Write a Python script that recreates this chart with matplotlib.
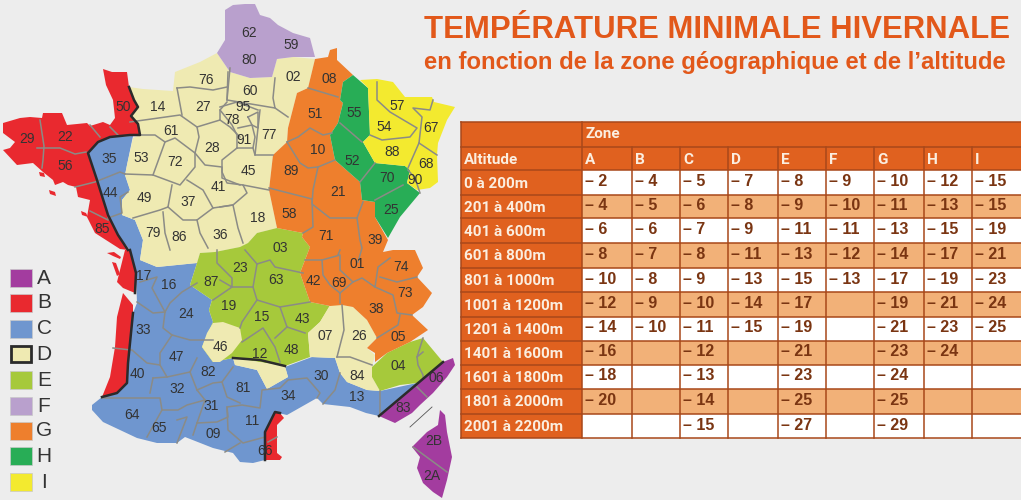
import matplotlib
matplotlib.use('Agg')
import matplotlib.pyplot as plt
from matplotlib.patches import Polygon, Rectangle

# table data
zones = ['A', 'B', 'C', 'D', 'E', 'F', 'G', 'H', 'I']
altitudes = ['0 à 200m', '201 à 400m', '401 à 600m', '601 à 800m', '801 à 1000m', '1001 à 1200m',
             '1201 à 1400m', '1401 à 1600m', '1601 à 1800m', '1801 à 2000m', '2001 à 2200m']
temp_A = [2, 4, 6, 8, 10, 12, 14, 16, 18, 20, None]
temp_B = [4, 5, 6, 7, 8, 9, 10, None, None, None, None]
temp_C = [5, 6, 7, 8, 9, 10, 11, 12, 13, 14, 15]
temp_D = [7, 8, 9, 11, 13, 14, 15, None, None, None, None]
temp_E = [8, 9, 11, 13, 15, 17, 19, 21, 23, 25, 27]
temp_F = [9, 10, 11, 12, 13, None, None, None, None, None, None]
temp_G = [10, 11, 13, 14, 17, 19, 21, 23, 24, 25, 29]
temp_H = [12, 13, 15, 17, 19, 21, 23, 24, None, None, None]
temp_I = [15, 15, 19, 21, 23, 24, 25, None, None, None, None]
temps = [temp_A, temp_B, temp_C, temp_D, temp_E, temp_F, temp_G, temp_H, temp_I]

# departement codes and where their labels sit on the map
dept_codes = ['29', '22', '56', '50', '14', '76', '27', '61', '35', '53', '72', '28', '44', '49', '37', '41',
              '79', '86', '36', '85', '18', '45', '91', '77', '78', '95', '60', '02', '62', '80', '59', '08',
              '51', '55', '10', '52', '89', '21', '58', '57', '54', '67', '88', '68', '70', '90', '25', '71',
              '39', '03', '01', '74', '73', '23', '63', '87', '42', '69', '38', '19', '15', '43', '05', '07',
              '26', '46', '12', '48', '04', '17', '16', '24', '33', '47', '82', '40', '32', '81', '30', '84',
              '06', '34', '13', '31', '83', '64', '65', '09', '11', '66', '2B', '2A']
dept_xy = [(27, 139), (65, 137), (65, 166), (123, 107), (158, 107), (206, 80), (203, 107), (171, 131),
           (109, 159), (141, 158), (175, 162), (212, 148), (110, 193), (144, 198), (188, 202), (218, 187),
           (153, 233), (179, 237), (220, 235), (102, 229), (258, 218), (248, 171), (244, 140), (269, 135),
           (232, 120), (243, 107), (250, 91), (293, 77), (249, 33), (249, 60), (291, 45), (329, 79),
           (315, 114), (354, 113), (318, 150), (352, 161), (291, 171), (338, 192), (289, 214), (397, 106),
           (384, 127), (431, 128), (392, 152), (426, 164), (387, 178), (415, 180), (391, 210), (326, 236),
           (375, 240), (280, 248), (357, 264), (401, 267), (405, 293), (240, 268), (276, 280), (211, 282),
           (313, 281), (339, 283), (376, 309), (229, 306), (262, 317), (302, 319), (398, 337), (325, 336),
           (359, 336), (220, 347), (260, 354), (291, 350), (398, 366), (144, 276), (169, 285), (186, 314),
           (143, 330), (176, 357), (208, 372), (137, 374), (177, 389), (243, 388), (321, 376), (357, 376),
           (436, 378), (288, 396), (357, 397), (211, 406), (403, 408), (132, 415), (159, 428), (213, 434),
           (252, 421), (265, 451), (434, 441), (432, 476)]

zone_col = {'A': '#a33c9f', 'B': '#e9292f', 'C': '#6f96cf', 'D': '#efeab2', 'E': '#a6c93b',
            'F': '#b9a0cd', 'G': '#ee7f2d', 'H': '#28ad56', 'I': '#f3ea2f'}
bg = '#ededed'
orange = '#e2581a'
head = '#e0611f'
light = '#f2b178'
line = '#a8481a'
brown = '#7a3512'
grey = '#8b8b86'
dark = '#2b2b2b'

# zone outlines, image pixels
outline_b = [(103, 69), (112, 72), (127, 72), (129, 87), (134, 100), (138, 107), (131, 116), (138, 124), (140, 135),
             (130, 135), (110, 137), (98, 142), (88, 153), (92, 165), (97, 180), (108, 215), (118, 235), (128, 250),
             (120, 249), (95, 233), (87, 217), (90, 200), (78, 197), (76, 187), (68, 185), (63, 182), (55, 185),
             (53, 180), (43, 172), (33, 163), (17, 165), (3, 150), (10, 148), (15, 142), (3, 133), (3, 123), (20, 118),
             (30, 117), (42, 118), (43, 113), (62, 113), (67, 125), (87, 123), (90, 126), (103, 122), (110, 125),
             (115, 118), (113, 100), (106, 85)]
outline_b2 = [(125, 250), (130, 250), (136, 273), (135, 293), (123, 288), (117, 282), (120, 270)]
outline_b3 = [(133, 313), (128, 363), (127, 383), (117, 393), (102, 397), (110, 377), (115, 347), (117, 317),
              (123, 293), (133, 305)]
outline_b4 = [(265, 432), (275, 412), (280, 413), (284, 418), (277, 425), (277, 453), (282, 457), (280, 460), (265, 460)]
isle_re = [(107, 253), (114, 252), (121, 257), (120, 259), (113, 256)]
isle_ol = [(112, 262), (116, 263), (120, 274), (117, 276)]
isle_a = [(39, 172), (44, 173), (45, 177), (40, 176)]
isle_b = [(49, 190), (55, 192), (56, 196), (50, 194)]
isle_c = [(81, 211), (86, 213), (88, 217), (82, 215)]
outline_c = [(98, 142), (110, 137), (133, 136), (127, 165), (125, 175), (130, 190), (122, 200), (122, 215), (135, 220),
             (143, 240), (140, 260), (157, 267), (197, 263), (190, 285), (212, 300), (209, 310), (213, 322), (202, 347),
             (213, 362), (233, 358), (235, 365), (257, 370), (267, 389), (288, 377), (285, 367), (312, 357), (335, 358),
             (340, 373), (347, 382), (367, 390), (380, 391), (417, 383), (379, 416), (366, 413), (350, 407), (323, 404),
             (317, 398), (287, 415), (278, 413), (265, 432), (265, 460), (253, 463), (240, 462), (233, 453), (213, 448),
             (185, 437), (177, 443), (157, 443), (137, 438), (103, 422), (92, 410), (92, 405), (102, 397), (117, 393),
             (127, 383), (128, 363), (133, 313), (137, 303), (136, 273), (130, 250), (118, 235), (108, 215), (97, 180),
             (92, 165), (88, 153)]
outline_d = [(129, 87), (143, 89), (173, 91), (175, 72), (200, 62), (217, 53), (230, 72), (250, 78), (272, 77), (277, 59),
             (293, 57), (315, 59), (308, 88), (297, 93), (288, 128), (287, 142), (273, 155), (269, 190), (277, 228),
             (257, 233), (248, 243), (240, 247), (215, 252), (200, 253), (197, 263), (157, 267), (140, 260), (143, 240),
             (135, 220), (122, 215), (122, 200), (130, 190), (125, 175), (127, 165), (133, 138), (140, 135), (138, 124),
             (131, 116), (138, 107), (134, 100)]
outline_d2 = [(202, 347), (207, 333), (213, 323), (223, 322), (240, 328), (242, 340), (232, 353), (220, 362), (213, 362)]
outline_d3 = [(233, 358), (285, 366), (288, 377), (267, 389), (257, 370), (235, 365)]
outline_d4 = [(330, 305), (342, 305), (353, 307), (367, 320), (377, 338), (367, 348), (375, 355), (372, 367), (372, 377),
              (380, 391), (367, 390), (347, 382), (340, 373), (335, 358), (310, 357), (308, 333), (320, 322)]
outline_e = [(248, 243), (257, 233), (277, 228), (303, 233), (302, 237), (310, 247), (305, 260), (300, 273), (310, 302),
             (330, 306), (320, 322), (308, 333), (310, 357), (285, 366), (233, 358), (213, 362), (202, 347), (213, 322),
             (209, 310), (212, 300), (190, 285), (197, 263), (200, 253), (215, 252), (240, 247)]
outline_e2 = [(372, 367), (387, 353), (410, 342), (423, 338), (443, 362), (417, 383), (400, 385), (380, 391), (372, 377)]
outline_f = [(233, 5), (245, 4), (255, 4), (260, 15), (270, 18), (278, 25), (293, 33), (310, 38), (315, 57), (293, 57),
             (277, 59), (272, 77), (250, 78), (230, 72), (217, 53), (225, 40), (225, 10)]
outline_g = [(315, 59), (328, 57), (330, 50), (337, 48), (337, 60), (353, 75), (343, 82), (340, 100), (343, 103), (338, 123),
             (330, 135), (335, 160), (360, 182), (362, 200), (375, 202), (375, 217), (388, 240), (383, 252), (393, 250),
             (415, 250), (423, 268), (417, 277), (432, 293), (423, 307), (412, 315), (428, 330), (410, 342), (387, 353),
             (375, 362), (375, 353), (367, 348), (377, 338), (367, 320), (353, 307), (342, 305), (330, 306), (310, 302),
             (300, 273), (305, 260), (310, 247), (302, 237), (303, 233), (277, 228), (269, 190), (273, 155), (287, 142),
             (288, 128), (297, 93), (308, 88)]
outline_h = [(353, 75), (368, 88), (370, 135), (363, 142), (375, 163), (405, 166), (410, 170), (407, 183), (420, 193),
             (400, 217), (388, 238), (375, 217), (375, 202), (362, 200), (360, 182), (335, 160), (330, 135), (338, 123),
             (343, 103), (340, 100), (343, 82)]
outline_i = [(360, 80), (377, 79), (393, 82), (405, 97), (432, 97), (434, 102), (455, 107), (447, 120), (438, 143), (437, 155),
             (438, 182), (430, 188), (417, 190), (407, 183), (410, 170), (405, 166), (375, 163), (363, 142), (370, 135),
             (368, 88)]
outline_a = [(443, 362), (453, 358), (455, 365), (447, 377), (433, 393), (420, 405), (412, 413), (395, 423), (379, 416)]
outline_corse = [(440, 410), (445, 415), (447, 432), (452, 457), (447, 480), (442, 498), (433, 492), (423, 483), (417, 468),
                 (420, 457), (412, 447), (427, 432), (438, 425)]

zone_shapes = [('C', outline_c), ('D', outline_d), ('E', outline_e), ('D', outline_d2), ('D', outline_d3), ('D', outline_d4),
               ('E', outline_e2), ('F', outline_f), ('G', outline_g), ('H', outline_h), ('I', outline_i), ('B', outline_b),
               ('B', outline_b2), ('B', outline_b3), ('B', outline_b4), ('B', isle_re), ('B', isle_ol), ('B', isle_a),
               ('B', isle_b), ('B', isle_c), ('A', outline_a), ('A', outline_corse)]

# departement borders inside the zones
borders = [
    [(40, 120), (44, 146), (43, 160), (42, 168)], [(37, 148), (60, 148), (75, 154), (86, 152)], [(90, 125), (100, 137)],
    [(110, 127), (118, 135)], [(75, 187), (95, 182), (120, 172), (125, 174)], [(90, 211), (108, 220)],
    [(128, 192), (120, 197), (122, 213), (108, 218)],
    [(130, 122), (180, 115), (197, 127), (220, 120), (220, 110), (227, 102)], [(177, 88), (182, 115)],
    [(177, 88), (190, 87), (213, 90), (227, 87)], [(230, 68), (227, 100)], [(140, 135), (155, 135), (165, 142), (153, 175)],
    [(165, 142), (175, 138), (195, 153), (199, 137), (197, 127)], [(125, 174), (153, 175), (180, 185), (195, 167), (195, 153)],
    [(172, 185), (168, 207), (160, 210), (133, 218)], [(163, 212), (165, 233), (170, 250)],
    [(168, 207), (183, 220), (197, 220), (213, 208), (233, 205)], [(187, 180), (203, 190), (213, 208)],
    [(197, 220), (200, 233), (208, 248)], [(195, 153), (205, 165), (222, 167), (222, 178), (240, 185)],
    [(220, 120), (230, 127), (240, 137)], [(228, 72), (227, 100), (275, 108)], [(275, 78), (273, 98), (275, 108), (288, 117)],
    [(260, 110), (255, 155), (273, 155)], [(220, 107), (237, 102), (258, 110)], [(220, 110), (232, 125), (237, 135), (237, 148)],
    [(238, 128), (252, 125), (255, 137), (253, 148), (237, 148)], [(248, 117), (258, 112), (258, 128), (252, 125), (248, 117)],
    [(237, 148), (222, 160), (222, 172), (227, 183), (243, 185), (247, 193), (233, 205), (238, 228), (243, 243)],
    [(243, 185), (269, 190)], [(220, 207), (233, 205)], [(253, 148), (255, 155)],
    [(308, 88), (338, 97)], [(287, 142), (298, 137), (310, 128), (323, 135), (332, 133)],
    [(287, 142), (300, 163), (308, 168), (318, 167), (335, 160)], [(318, 167), (313, 190), (312, 204), (330, 218), (357, 218), (363, 202)],
    [(269, 188), (312, 199)], [(312, 199), (313, 227), (303, 233)], [(357, 218), (360, 240), (362, 248), (358, 262)],
    [(340, 123), (362, 142)], [(360, 182), (375, 163)], [(375, 200), (403, 185)],
    [(433, 100), (430, 110), (413, 108), (422, 117), (419, 143), (408, 168)], [(377, 82), (377, 100), (390, 112), (417, 128), (410, 137), (382, 140), (370, 135)],
    [(419, 143), (437, 155)], [(408, 170), (415, 178), (420, 193)],
    [(305, 260), (322, 260), (323, 275), (330, 285), (340, 293), (340, 303)], [(322, 260), (340, 255), (340, 270), (353, 282), (340, 293)],
    [(353, 282), (362, 278), (375, 287), (378, 267), (390, 258)], [(380, 277), (397, 282), (417, 277)],
    [(375, 287), (393, 295), (397, 313), (412, 315)], [(400, 315), (398, 325), (377, 338)], [(340, 250), (338, 255)],
    [(245, 250), (257, 264), (270, 260), (275, 267), (303, 273)], [(257, 264), (253, 287), (257, 300), (280, 307), (310, 302)],
    [(220, 280), (232, 287), (253, 287)], [(257, 300), (242, 322), (240, 328)], [(242, 342), (263, 328), (275, 347), (280, 362)],
    [(280, 307), (287, 327), (305, 333)], [(287, 327), (275, 338)], [(217, 250), (217, 263), (232, 278), (232, 287), (213, 300)],
    [(137, 302), (153, 313), (165, 312)], [(140, 282), (157, 277), (152, 288), (165, 312)],
    [(197, 283), (182, 292), (170, 303), (165, 312), (163, 328), (172, 335), (190, 340), (213, 340)],
    [(172, 335), (160, 353), (160, 365)], [(132, 350), (147, 363), (160, 365), (167, 377), (190, 372), (197, 358)],
    [(153, 378), (150, 393)], [(153, 378), (167, 377)], [(102, 398), (160, 398), (162, 410), (147, 437)],
    [(162, 410), (178, 410), (187, 405), (205, 400)], [(190, 372), (197, 390), (205, 400), (197, 423), (193, 435)],
    [(177, 420), (187, 417), (177, 443)], [(197, 390), (213, 383), (222, 382), (233, 367)], [(222, 382), (227, 397), (240, 403)],
    [(197, 423), (217, 422), (228, 417), (227, 407), (242, 405), (260, 408), (262, 390), (280, 388), (288, 380), (307, 378), (320, 393), (317, 398)],
    [(227, 407), (228, 430), (243, 443), (265, 437)], [(225, 452), (240, 443)], [(340, 373), (335, 390), (323, 404)],
    [(380, 391), (380, 415)], [(423, 338), (417, 357), (423, 352)], [(417, 357), (418, 365), (423, 375), (423, 377)],
    [(342, 305), (344, 330), (337, 357)], [(337, 357), (350, 357), (372, 365)], [(413, 447), (447, 472)],
    [(417, 387), (427, 397)], [(113, 348), (131, 350)], [(268, 442), (277, 437)],
]

# thick black lines around zone D
thick_lines = [
    [(129, 87), (134, 100), (138, 107), (131, 116), (138, 124), (140, 135), (130, 135), (110, 137), (98, 142), (88, 153), (92, 165),
     (97, 180), (108, 215), (118, 235), (128, 250)],
    [(130, 250), (136, 273), (135, 293)], [(133, 313), (128, 363), (127, 383), (117, 393), (102, 397)],
    [(233, 358), (260, 360), (285, 366)], [(265, 460), (265, 432), (275, 412), (280, 413)], [(443, 362), (379, 416)],
]

fig = plt.figure(figsize=(10.21, 5.0), dpi=100, facecolor=bg)
ax = fig.add_axes([0, 0, 1, 1])
ax.set_xlim(0, 1021)
ax.set_ylim(500, 0)
ax.axis('off')

# map
for z, pts in zone_shapes:
    ax.add_patch(Polygon(pts, closed=True, fc=zone_col[z], ec='none', zorder=1))
for seg in borders:
    ax.plot(*zip(*seg), color=grey, lw=1.1, zorder=2, solid_joinstyle='round')
for seg in thick_lines:
    ax.plot(*zip(*seg), color=dark, lw=1.8, zorder=3, solid_joinstyle='round')
ax.plot([410, 432], [427, 407], color='#555555', lw=0.6, zorder=2)
for code, (x, y) in zip(dept_codes, dept_xy):
    ax.text(x, y, code, ha='center', va='center', family='Liberation Sans', fontsize=10, color='#333333', zorder=4)

# legend
legend_top = [269, 294, 320, 345, 371, 397, 422, 447, 473]
for z, y in zip(zones, legend_top):
    if z == 'D':
        ax.add_patch(Rectangle((11, y + 1), 20, 16, fc=zone_col[z], ec=dark, lw=2, zorder=2))
    else:
        ax.add_patch(Rectangle((10, y), 22, 18, fc=zone_col[z], ec='#c8c8c8', lw=0.5, zorder=2))
    ax.text(44, y + 9, z, ha='center', va='center', family='Liberation Sans', fontsize=15, color='#333333')

# titles
ax.text(424, 30, 'TEMPÉRATURE MINIMALE HIVERNALE', ha='left', va='center', family='Liberation Sans',
        weight='bold', fontsize=22.4, color=orange)
ax.text(424, 62, 'en fonction de la zone géographique et de l’altitude', ha='left', va='center',
        family='Liberation Sans', weight='bold', fontsize=17.2, color=orange)

# table
col_x = [461, 582, 632, 680, 728, 778, 826, 874, 924, 972, 1021]
row_y = [122, 147, 170, 195, 218, 243, 268, 292, 317, 341, 365, 389, 414, 438]
ax.add_patch(Rectangle((col_x[0], row_y[0]), col_x[-1] - col_x[0], row_y[2] - row_y[0], fc=head, ec='none', zorder=1))
ax.add_patch(Rectangle((col_x[0], row_y[2]), col_x[1] - col_x[0], row_y[-1] - row_y[2], fc=head, ec='none', zorder=1))
for i in range(len(altitudes)):
    fc = 'white' if i % 2 == 0 else light
    ax.add_patch(Rectangle((col_x[1], row_y[i + 2]), col_x[-1] - col_x[1], row_y[i + 3] - row_y[i + 2], fc=fc, ec='none', zorder=1))
for y in row_y:
    ax.plot([col_x[0], col_x[-1]], [y, y], color=line, lw=1.1, zorder=2)
ax.plot([col_x[0], col_x[0]], [row_y[0], row_y[-1]], color=line, lw=1.1, zorder=2)
ax.plot([col_x[1], col_x[1]], [row_y[0], row_y[-1]], color=line, lw=1.1, zorder=2)
for x in col_x[2:-1]:
    ax.plot([x, x], [row_y[1], row_y[-1]], color=line, lw=1.1, zorder=2)

head_font = dict(family='Roboto', weight='bold', fontsize=11, color='#fbeee0', va='center', ha='left', zorder=3)
ax.text(col_x[1] + 3, (row_y[0] + row_y[1]) / 2, 'Zone', **head_font)
ax.text(col_x[0] + 3, (row_y[1] + row_y[2]) / 2 + 1, 'Altitude', **head_font)
for j, z in enumerate(zones):
    ax.text(col_x[j + 1] + 3, (row_y[1] + row_y[2]) / 2 + 1, z, **head_font)
for i, alt in enumerate(altitudes):
    ax.text(col_x[0] + 3, (row_y[i + 2] + row_y[i + 3]) / 2 + 1, alt, **head_font)
    for j, col in enumerate(temps):
        if col[i] is not None:
            ax.text(col_x[j + 1] + 3, (row_y[i + 2] + row_y[i + 3]) / 2 - 1, '– %d' % col[i], ha='left', va='center',
                    family='Liberation Sans', weight='bold', fontsize=11.5, color=brown, zorder=3)

fig.savefig('out.png', dpi=100, facecolor=bg)
